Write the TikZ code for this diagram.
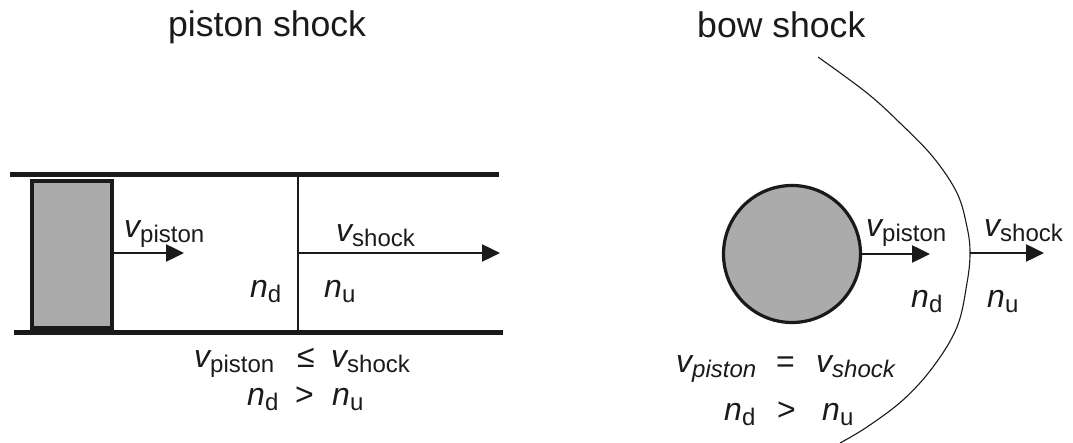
\documentclass[tikz,border=0pt]{standalone}
\usepackage{fontspec}
\setmainfont{Liberation Sans}
\usetikzlibrary{arrows.meta}
\newcommand{\subsz}{\fontsize{24}{24}\selectfont}
\newcommand{\vsub}[1]{{\itshape v}\raisebox{-5pt}{\subsz #1}}
\newcommand{\vsubit}[1]{{\itshape v}\raisebox{-5pt}{\subsz\itshape #1}}
\newcommand{\nsub}[1]{{\itshape n}\raisebox{-5pt}{\subsz #1}}
\definecolor{ink}{HTML}{1A1A1A}
\definecolor{bodygray}{HTML}{ABABAB}
\tikzset{
  lbl/.style={anchor=base west, inner sep=0pt, text=ink, font=\fontsize{32}{32}\selectfont},
  ttl/.style={anchor=base west, inner sep=0pt, text=ink, font=\fontsize{35.6}{36}\selectfont},
  wall/.style={line width=5pt, ink},
  front/.style={line width=1.1pt, ink},
  vel/.style={line width=2.5pt, ink, -{Triangle[length=18pt,width=17pt]}},
  body/.style={draw=ink, line width=3.2pt, fill=bodygray, inner sep=0pt}
}
\begin{document}
\begin{tikzpicture}[x=1pt,y=-1pt]
\useasboundingbox (0,0) rectangle (1073,443);

% ---------- piston shock ----------
\node[ttl] (t1) at (168,37) {piston shock};

\coordinate (tl) at (10,175);
\coordinate (tr) at (499,175);
\coordinate (bl) at (14,333);
\coordinate (br) at (503,333);
\draw[wall] (tl) -- (tr);
\draw[wall] (bl) -- (br);

\node[body, rectangle, minimum width=80pt, minimum height=147pt] (piston) at (72,254.5) {};

\coordinate (sf1) at (298,175);
\coordinate (sf2) at (298,333);
\draw[front] (sf1) -- (sf2);

\coordinate (pa) at (184,253);
\draw[vel] (piston.east |- pa) -- (pa);
\coordinate (sa) at (500,253);
\draw[vel] (sf1 |- sa) -- (sa);

\node[lbl] (vp1) at (124,238) {\vsub{piston}};
\node[lbl] (vs1) at (336,242) {\vsub{shock}};
\node[lbl] (nd1) at (250,298) {\nsub{d}};
\node[lbl] (nu1) at (324,298) {\nsub{u}};

\node[lbl] (ra) at (194,367) {\vsub{piston}};
\node[lbl] (rb) at (297,367) {≤};
\node[lbl] (rc) at (331,367) {\vsub{shock}};
\node[lbl] (rd) at (247,405) {\nsub{d}};
\node[lbl] (re) at (295,405) {>};
\node[lbl] (rf) at (332,405) {\nsub{u}};

% ---------- bow shock ----------
\node[ttl] (t2) at (697,38) {bow shock};

\node[body, circle, minimum size=137pt] (obst) at (792,254) {};

\coordinate (apex) at (970,253);
\draw[front] plot[smooth, tension=0.6] coordinates {
  (818,57) (867,93) (900,123) (933,157) (957,193) (967,227) (970,253)
  (967,283) (957,327) (933,367) (903,400) (867,427) (840,443)};

\coordinate (oa) at (930,254);
\draw[vel] (obst.east) -- (oa);
\coordinate (ba) at (1044,253);
\draw[vel] (apex) -- (ba);

\node[lbl] (vp2) at (866,237) {\vsub{piston}};
\node[lbl] (vs2) at (984,237) {\vsub{shock}};
\node[lbl] (nd2) at (911,308) {\nsub{d}};
\node[lbl] (nu2) at (987,308) {\nsub{u}};

\node[lbl] (qa) at (676,373) {\vsubit{piston}};
\node[lbl] (qb) at (776,373) {=};
\node[lbl] (qc) at (816,373) {\vsubit{shock}};
\node[lbl] (qd) at (724,420) {\nsub{d}};
\node[lbl] (qe) at (777,420) {>};
\node[lbl] (qf) at (822,420) {\nsub{u}};
\end{tikzpicture}
\end{document}
